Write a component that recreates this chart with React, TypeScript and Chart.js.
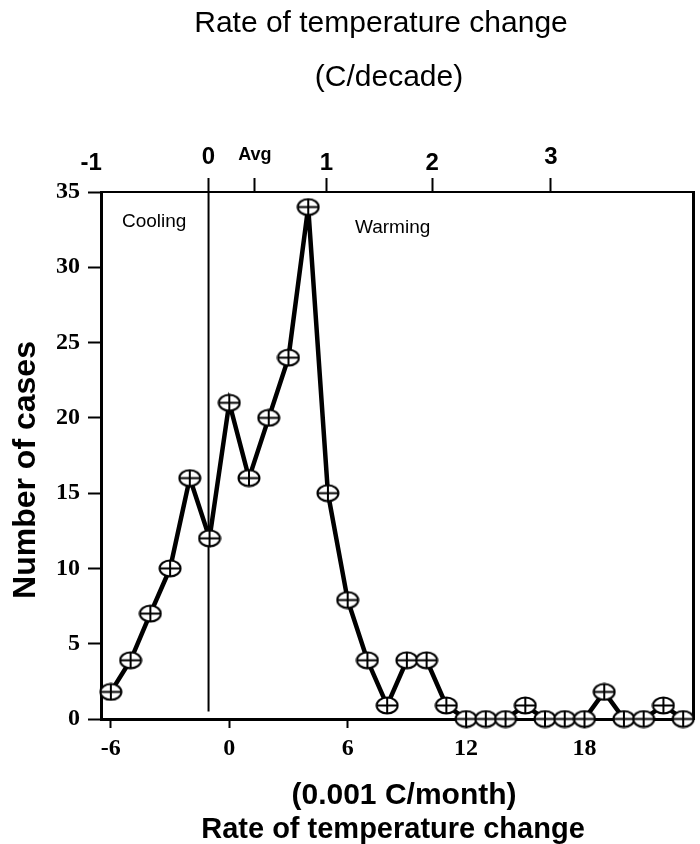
import React, { useEffect, useRef } from "react";
import { Chart, registerables } from "chart.js";

Chart.register(...registerables);

const xValues = [-6, -5, -4, -3, -2, -1, 0, 1, 2, 3, 4, 5, 6, 7, 8, 9, 10, 11, 12, 13, 14, 15, 16, 17, 18, 19, 20, 21, 22, 23];
const cases = [1.8, 3.9, 7, 10, 16, 12, 21, 16, 20, 24, 34, 15, 7.9, 3.9, 0.9, 3.9, 3.9, 0.9, 0, 0, 0, 0.9, 0, 0, 0, 1.8, 0, 0, 0.9, 0];
const bottomTicks = [-6, 0, 6, 12, 18];
const topTickLabels = ["-1", "0", "Avg", "1", "2", "3"];
const topTickPositions = [-7.0, -1.05, 1.3, 4.92, 10.28, 16.3];
const dividerX = [-1.05, -1.05];
const dividerY = [0.5, 35];
const yTicks = [0, 5, 10, 15, 20, 25, 30, 35];

const SANS = "Arial, 'Liberation Sans', sans-serif";
const SERIF = "'Times New Roman', 'Liberation Serif', serif";

function makeMarker() {
  const c = document.createElement("canvas");
  c.width = 24;
  c.height = 19;
  const g = c.getContext("2d")!;
  g.beginPath();
  g.ellipse(12, 9.5, 10.5, 8, 0, 0, Math.PI * 2);
  g.fillStyle = "#fff";
  g.fill();
  g.lineWidth = 2;
  g.strokeStyle = "#000";
  g.stroke();
  g.beginPath();
  g.moveTo(1.5, 9.5);
  g.lineTo(22.5, 9.5);
  g.moveTo(12, 1.5);
  g.lineTo(12, 17.5);
  g.stroke();
  return c;
}

const textPlugin = {
  id: "texts",
  afterDraw(chart: any) {
    const ctx = chart.ctx;
    const ca = chart.chartArea;
    ctx.save();
    ctx.fillStyle = "#000";
    ctx.textAlign = "center";
    ctx.textBaseline = "alphabetic";
    ctx.font = `30px ${SANS}`;
    ctx.fillText("Rate of temperature change", 381, 32);
    ctx.fillText("(C/decade)", 389, 86);
    ctx.font = `bold 30px ${SANS}`;
    ctx.fillText("(0.001 C/month)", 404, 804);
    ctx.font = `bold 29px ${SANS}`;
    ctx.fillText("Rate of temperature change", 393, 838);
    ctx.save();
    ctx.translate(35, 470);
    ctx.rotate(-Math.PI / 2);
    ctx.font = `bold 32px ${SANS}`;
    ctx.fillText("Number of cases", 0, 0);
    ctx.restore();
    ctx.textAlign = "left";
    ctx.font = `19px ${SANS}`;
    ctx.fillText("Cooling", ca.left + 21, 227);
    ctx.fillText("Warming", ca.left + 254, 233);
    ctx.restore();
  },
};

function noPad(s: any) {
  s.paddingLeft = 0;
  s.paddingRight = 0;
  s.paddingTop = 0;
  s.paddingBottom = 0;
}

export default function App() {
  const ref = useRef<HTMLCanvasElement | null>(null);
  useEffect(() => {
    if (!ref.current) return;
    const pts = xValues.map((x, i) => ({ x, y: cases[i] }));
    const marker = makeMarker();
    const chart = new Chart(ref.current, {
      type: "scatter",
      data: {
        datasets: [
          {
            data: pts,
            showLine: true,
            borderColor: "#000",
            borderWidth: 4.5,
            pointStyle: marker,
            pointRadius: 10,
            clip: false,
          } as any,
          {
            data: dividerX.map((x, i) => ({ x, y: dividerY[i] })),
            showLine: true,
            borderColor: "#000",
            borderWidth: 2,
            pointRadius: 0,
          } as any,
        ],
      },
      options: {
        animation: false,
        responsive: false,
        layout: { padding: 0, autoPadding: false },
        plugins: { legend: { display: false }, tooltip: { enabled: false }, title: { display: false } },
        scales: {
          x: {
            type: "linear",
            position: "bottom",
            min: -6.5,
            max: 23.5,
            afterBuildTicks: (s: any) => {
              s.ticks = bottomTicks.map((v) => ({ value: v }));
            },
            afterFit: (s: any) => {
              s.height = 125;
              noPad(s);
            },
            grid: { drawOnChartArea: false, drawTicks: true, tickLength: 9, tickWidth: 2, color: "#000" },
            border: { display: true, width: 3, color: "#000" },
            ticks: { color: "#000", padding: 6, font: { family: SERIF, weight: "bold", size: 24 } },
          },
          x2: {
            type: "linear",
            position: "top",
            min: -6.5,
            max: 23.5,
            afterBuildTicks: (s: any) => {
              s.ticks = topTickPositions.map((v) => ({ value: v }));
            },
            afterFit: (s: any) => {
              s.height = 192;
              noPad(s);
            },
            grid: {
              drawOnChartArea: false,
              drawTicks: true,
              tickLength: 14,
              tickWidth: 2,
              color: (c: any) => (c.index === 0 ? "rgba(0,0,0,0)" : "#000"),
            },
            border: { display: true, width: 2, color: "#000" },
            ticks: {
              color: "#000",
              padding: 5,
              autoSkip: false,
              maxRotation: 0,
              callback: (_v: any, i: number) => topTickLabels[i],
              font: (c: any) => {
                const l = topTickLabels[c.index];
                if (l === "Avg") return { family: SANS, weight: "bold", size: 18, lineHeight: 2.0 };
                if (l === "0" || l === "3") return { family: SANS, weight: "bold", size: 24, lineHeight: 1.3 };
                return { family: SANS, weight: "bold", size: 24, lineHeight: 0.8 };
              },
            },
          },
          y: {
            type: "linear",
            position: "left",
            min: 0,
            max: 35,
            afterBuildTicks: (s: any) => {
              s.ticks = yTicks.map((v) => ({ value: v }));
            },
            afterFit: (s: any) => {
              s.width = 101;
              noPad(s);
            },
            grid: { drawOnChartArea: false, drawTicks: true, tickLength: 13, tickWidth: 2, color: "#000" },
            border: { display: true, width: 3, color: "#000" },
            ticks: { color: "#000", padding: 8, font: { family: SERIF, weight: "bold", size: 24 } },
          },
          y2: {
            type: "linear",
            position: "right",
            min: 0,
            max: 35,
            afterFit: (s: any) => {
              s.width = 7;
              noPad(s);
            },
            grid: { display: false, drawTicks: false },
            border: { display: true, width: 3, color: "#000" },
            ticks: { display: false },
          },
        },
      } as any,
      plugins: [textPlugin],
    });
    return () => chart.destroy();
  }, []);
  return (
    <div style={{ position: "absolute", left: 0, top: 0, width: 700, height: 844, background: "#fff" }}>
      <canvas ref={ref} width={700} height={844} style={{ width: 700, height: 844, display: "block" }} />
    </div>
  );
}
